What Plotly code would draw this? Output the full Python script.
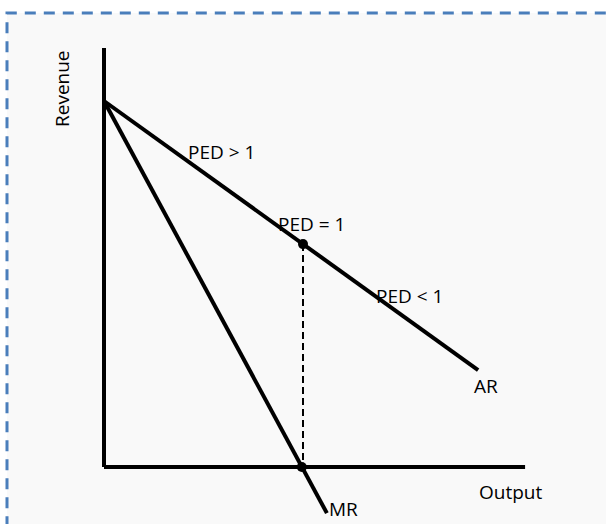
import plotly.graph_objects as go

# ---- data (economic units) ----
ar_output = [0, 9.4]
ar_revenue = [10, 2.65]
mr_output = [0, 5.6]
mr_revenue = [10, -1.26]
unit_elastic_output = 5.0
unit_elastic_revenue = 6.09
mr_zero_output = 4.97
x_axis_end = 10.58
y_axis_top = 11.45

labels = ["Revenue", "PED > 1", "PED = 1", "PED < 1", "AR", "Output", "MR"]

W, H = 606, 524
# pixel mapping helpers (for annotation placement)
X0PX, Y0PX = 104, 467
SX, SY = 39.8, 36.6
def dx(px):
    return (px - X0PX) / SX
def dy(py):
    return (Y0PX - py) / SY

fig = go.Figure()
line = dict(color="black", width=4)

# axes
fig.add_trace(go.Scatter(x=[0, 0], y=[y_axis_top, 0], mode="lines", line=line, hoverinfo="skip"))
fig.add_trace(go.Scatter(x=[0, x_axis_end], y=[0, 0], mode="lines", line=line, hoverinfo="skip"))
# AR and MR
fig.add_trace(go.Scatter(x=ar_output, y=ar_revenue, mode="lines", line=line, hoverinfo="skip"))
fig.add_trace(go.Scatter(x=mr_output, y=mr_revenue, mode="lines", line=line, hoverinfo="skip"))
# dashed drop line
fig.add_trace(go.Scatter(x=[unit_elastic_output, unit_elastic_output], y=[unit_elastic_revenue, 0],
                         mode="lines", line=dict(color="black", width=2, dash="7px,4px"), hoverinfo="skip"))
# points
fig.add_trace(go.Scatter(x=[unit_elastic_output, mr_zero_output], y=[unit_elastic_revenue, 0],
                         mode="markers", marker=dict(color="black", size=10), hoverinfo="skip"))

font = dict(family="Open Sans", size=19, color="black")
pos = {
    "Revenue": (62, 89),
    "PED > 1": (221, 152),
    "PED = 1": (311, 224),
    "PED < 1": (409, 296),
    "AR": (486, 386),
    "Output": (510, 492),
    "MR": (343, 509),
}
for lab in labels:
    px, py = pos[lab]
    fig.add_annotation(x=dx(px), y=dy(py), text=lab, showarrow=False, font=font,
                       textangle=-90 if lab == "Revenue" else 0,
                       xanchor="center", yanchor="middle")

# dashed frame with light background
fig.add_shape(type="rect", xref="paper", yref="paper",
              x0=7 / W, x1=1.05, y0=-0.05, y1=1 - 13 / H,
              line=dict(color="#4a7ebb", width=3, dash="11px,8px"),
              fillcolor="#f9f9f9", layer="below")

fig.update_layout(
    width=W, height=H,
    margin=dict(l=0, r=0, t=0, b=0),
    paper_bgcolor="white", plot_bgcolor="rgba(0,0,0,0)",
    showlegend=False,
    xaxis=dict(range=[dx(0), dx(W)], visible=False, fixedrange=True),
    yaxis=dict(range=[dy(H), dy(0)], visible=False, fixedrange=True),
)
fig.write_html("out.html", config={"displayModeBar": False},
               post_script="document.body.style.margin='0';document.body.style.overflow='hidden';")
